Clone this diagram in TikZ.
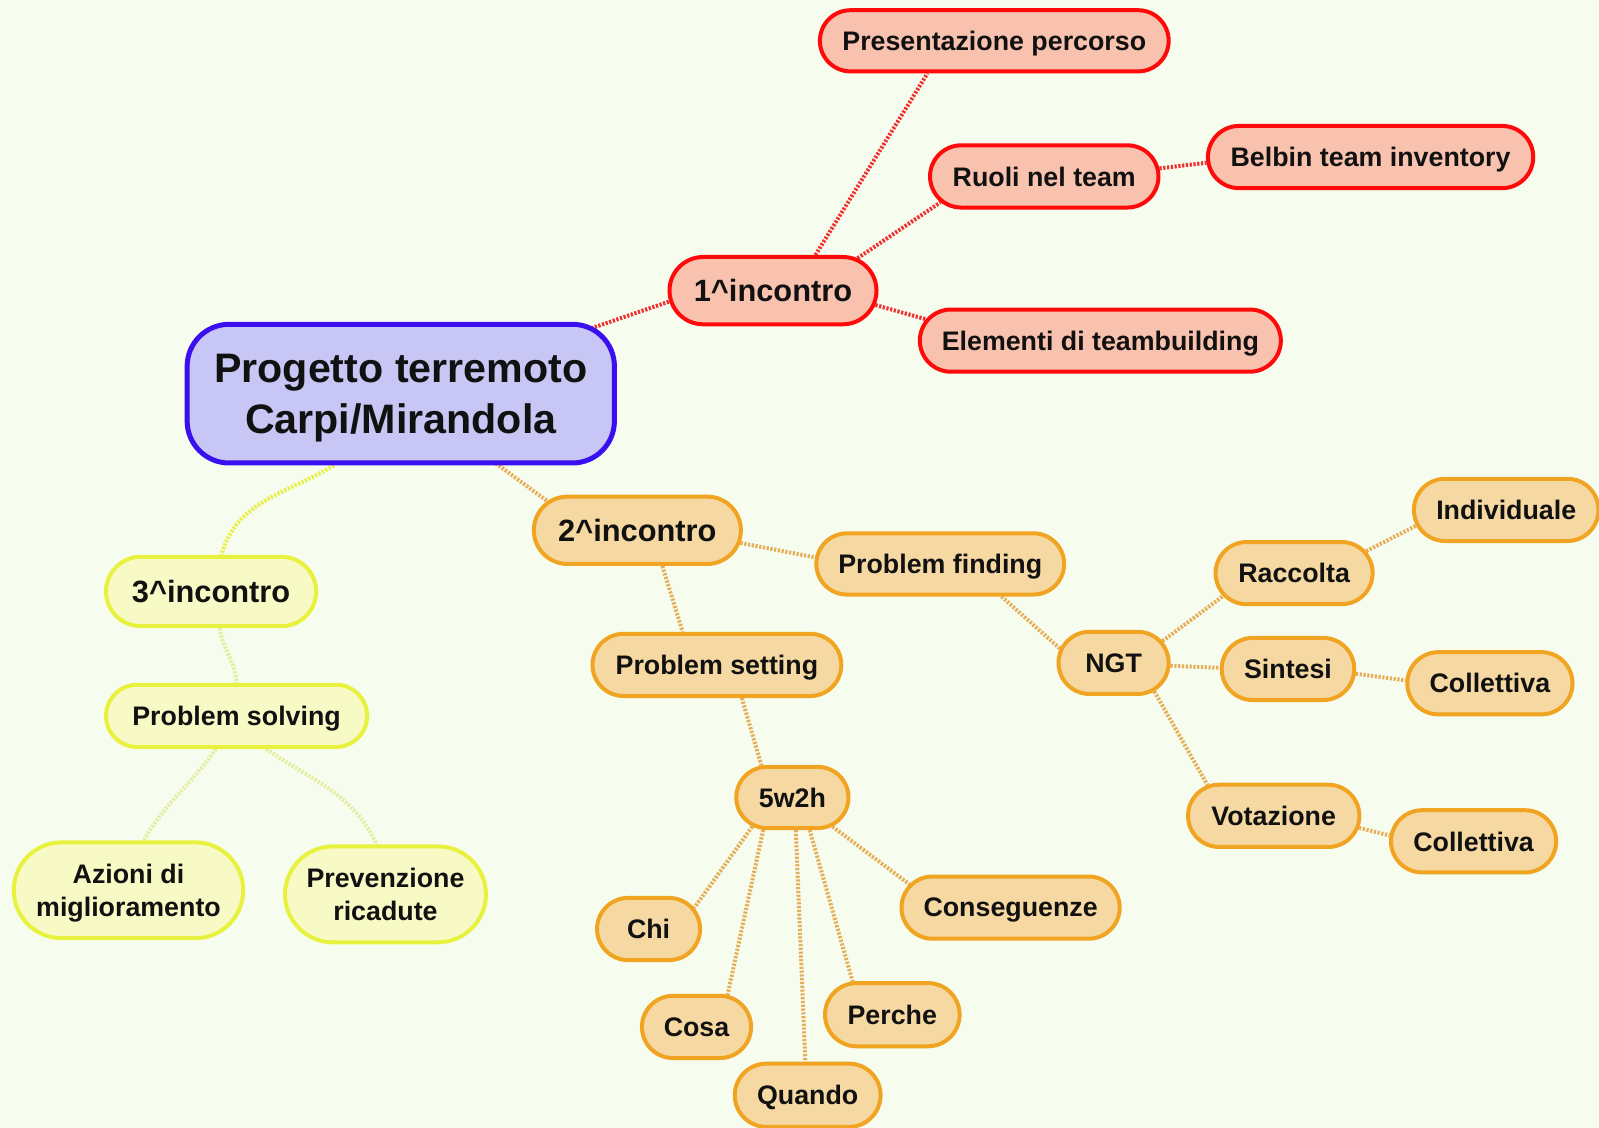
\documentclass[tikz,border=0pt]{standalone}
\usepackage{fontspec}
\setmainfont{Liberation Sans}
\usetikzlibrary{shapes.misc,backgrounds}

\definecolor{paper}{HTML}{F6FDEE}
\definecolor{blueB}{HTML}{3A10F0}
\definecolor{blueF}{HTML}{C8C6F4}
\definecolor{redB}{HTML}{FF0A0A}
\definecolor{redF}{HTML}{F8C2AE}
\definecolor{redL}{HTML}{F03030}
\definecolor{orgB}{HTML}{F0A422}
\definecolor{orgF}{HTML}{F6D9A2}
\definecolor{orgL}{HTML}{E6AE58}
\definecolor{yelB}{HTML}{E8F23E}
\definecolor{yelF}{HTML}{F8FAC6}
\definecolor{yelL}{HTML}{EAEE40}
\definecolor{yelP}{HTML}{E6ECA0}
\definecolor{ink}{HTML}{111111}

\begin{document}
\begin{tikzpicture}[x=0.51pt,y=-0.51pt,
  mm/.style={rounded rectangle, line width=2pt, inner sep=0pt, text=ink,
    text depth=0pt, font=\bfseries\fontsize{13.4pt}{16.3pt}\selectfont, align=center},
  dim/.style 2 args={minimum width=#1*0.51pt, minimum height=#2*0.51pt},
  rednd/.style={mm, draw=redB, fill=redF},
  orgnd/.style={mm, draw=orgB, fill=orgF},
  yelnd/.style={mm, draw=yelB, fill=yelF},
  big/.style={font=\bfseries\fontsize{15.4pt}{18pt}\selectfont},
  link/.style={line width=2pt, dash pattern=on 1.1pt off 0.8pt},
]
\useasboundingbox (0,0) rectangle (1568,1106);

% central topic
\node[rectangle, rounded corners=21pt, draw=blueB, fill=blueF, line width=2.5pt,
      inner sep=0pt, text=ink, align=center, dim={419}{136}, text depth=0pt,
      font=\bfseries\fontsize{20.6pt}{25.5pt}\selectfont]
  (root) at (393,386) {Progetto terremoto\\Carpi/Mirandola};

% first meeting
\node[rednd, big, dim={203}{66}] (i1) at (758,285) {1\^{}incontro};
\node[rednd, dim={342}{60}] (pres) at (975,40) {Presentazione percorso};
\node[rednd, dim={224}{61}] (ruoli) at (1024,173) {Ruoli nel team};
\node[rednd, dim={319}{61}] (belbin) at (1344,154) {Belbin team inventory};
\node[rednd, dim={354}{61}] (elem) at (1079,334) {Elementi di teambuilding};

% second meeting
\node[orgnd, big, dim={203}{66}] (i2) at (625,520) {2\^{}incontro};
\node[orgnd, dim={243}{60}] (pfind) at (922,553) {Problem finding};
\node[orgnd, dim={244}{61}] (pset) at (703,652) {Problem setting};
\node[orgnd, dim={110}{60}] (w5) at (777,782) {5w2h};
\node[orgnd, dim={101}{61}] (chi) at (636,911) {Chi};
\node[orgnd, dim={107}{61}] (cosa) at (683,1007) {Cosa};
\node[orgnd, dim={143}{62}] (quando) at (792,1074) {Quando};
\node[orgnd, dim={132}{62}] (perche) at (875,995) {Perche};
\node[orgnd, dim={214}{61}] (conseg) at (991,890) {Conseguenze};
\node[orgnd, dim={108}{61}] (ngt) at (1092,650) {NGT};
\node[orgnd, dim={154}{61}] (racc) at (1269,562) {Raccolta};
\node[orgnd, dim={181}{61}] (indiv) at (1477,500) {Individuale};
\node[orgnd, dim={130}{61}] (sint) at (1263,656) {Sintesi};
\node[orgnd, dim={162}{61}] (coll1) at (1461,670) {Collettiva};
\node[orgnd, dim={168}{61}] (vot) at (1249,800) {Votazione};
\node[orgnd, dim={162}{61}] (coll2) at (1445,825) {Collettiva};

% third meeting
\node[yelnd, big, dim={206}{68}] (i3) at (207,580) {3\^{}incontro};
\node[yelnd, dim={256}{61}] (psolv) at (232,702) {Problem solving};
\node[yelnd, dim={225}{94}] (azioni) at (126,873) {Azioni di\\miglioramento};
\node[yelnd, dim={197}{94}] (prev) at (378,877) {Prevenzione\\ricadute};

\begin{scope}[on background layer]
  \fill[paper] (0,0) rectangle (1568,1106);

  % branches of the first meeting
  \draw[link, redL] (root.center) -- (i1.186);
  \draw[link, redL] (i1.40) -- (pres.206);
  \draw[link, redL] (i1.21) -- (ruoli.194);
  \draw[link, redL] (ruoli.4) -- (belbin.182);
  \draw[link, redL] (i1.352) -- (elem.173);

  % branches of the second meeting
  \draw[link, orgL] (root.center) -- (i2.162);
  \draw[link, orgL] (i2.353) -- (pfind.177);
  \draw[link, orgL] (i2.305) -- (pset.136);
  \draw[link, orgL] (pset.307) -- (w5.134);
  \draw[link, orgL] (w5.216) -- (chi.25);
  \draw[link, orgL] (w5.228) -- (cosa.46);
  \draw[link, orgL] (w5.276) -- (quando.94);
  \draw[link, orgL] (w5.298) -- (perche.140);
  \draw[link, orgL] (w5.324) -- (conseg.167);
  \draw[link, orgL] (pfind.332) -- (ngt.165);
  \draw[link, orgL] (ngt.24) -- (racc.198);
  \draw[link, orgL] (ngt.357) -- (sint.179);
  \draw[link, orgL] (ngt.325) -- (vot.155);
  \draw[link, orgL] (racc.17) -- (indiv.190);
  \draw[link, orgL] (sint.356) -- (coll1.178);
  \draw[link, orgL] (vot.352) -- (coll2.176);

  % branches of the third meeting
  \draw[link, yelL] (root.227) to[out=211, in=75] (i3.74);
  \draw[link, yelP] (i3.283) to[out=-80, in=95] (psolv.90);
  \draw[link, yelP] (psolv.238) to[out=-125, in=60] (azioni.73);
  \draw[link, yelP] (psolv.312) to[out=-35, in=115] (prev.100);
\end{scope}
\end{tikzpicture}
\end{document}
